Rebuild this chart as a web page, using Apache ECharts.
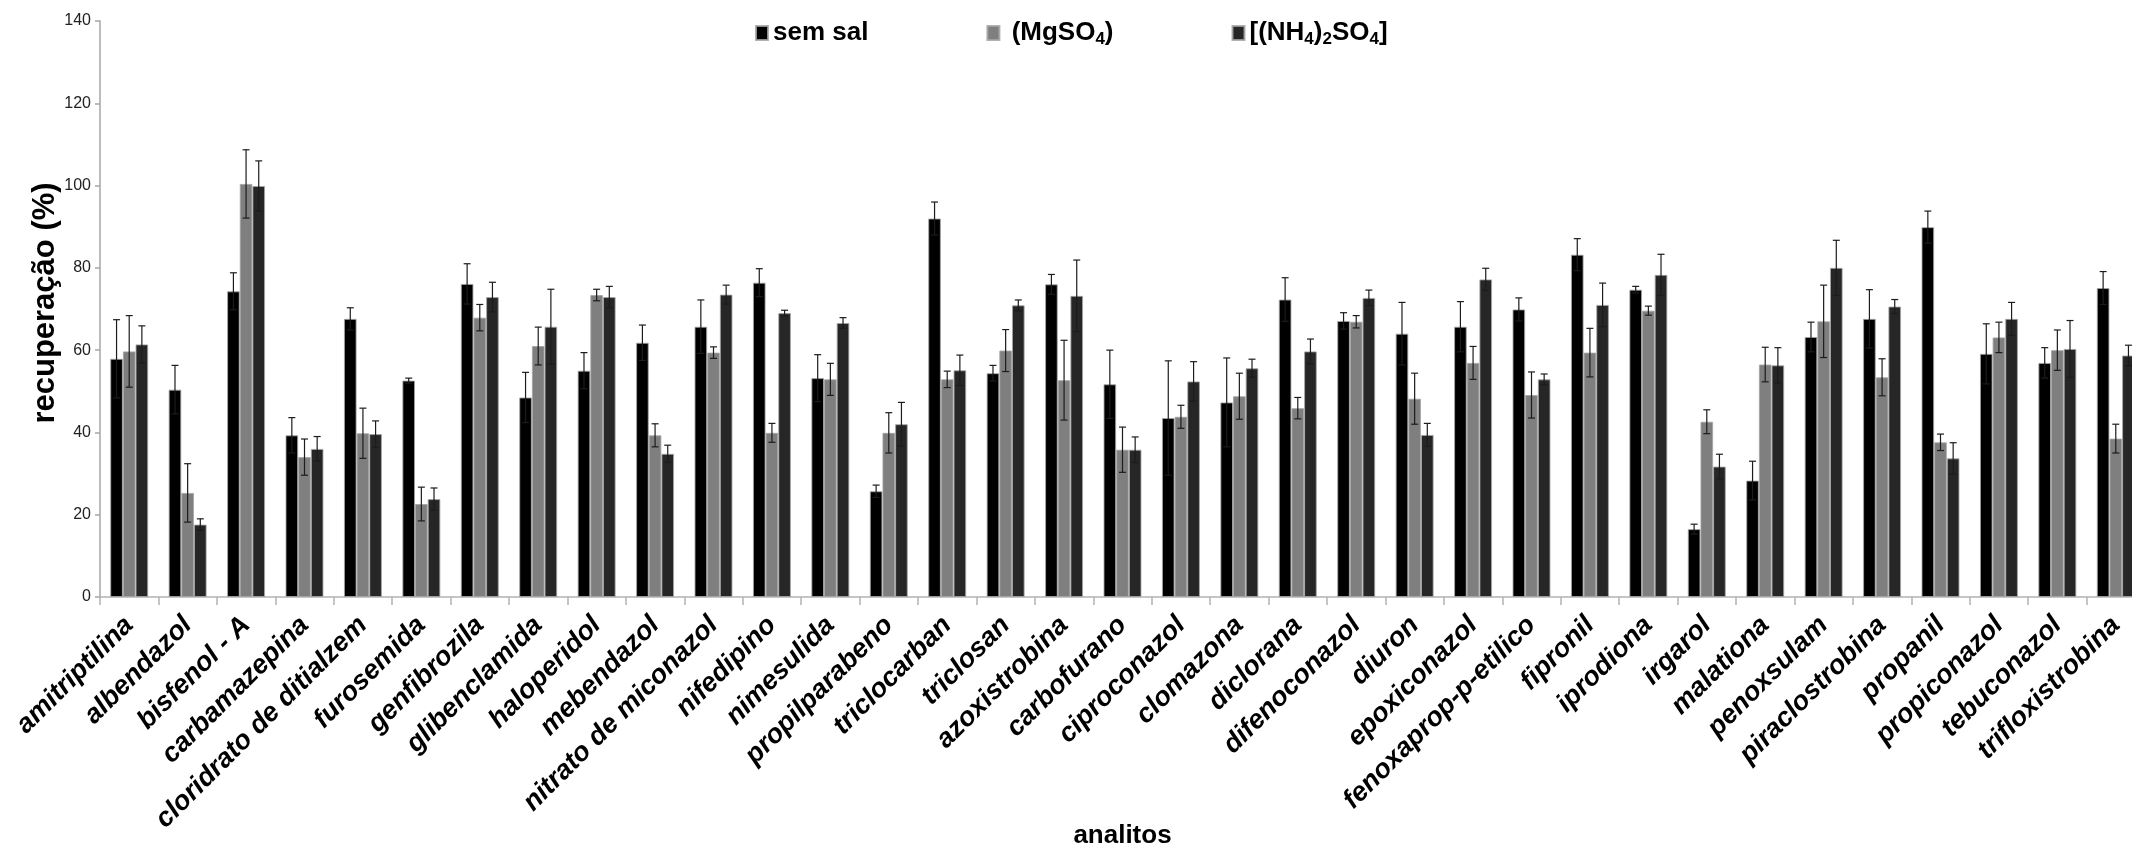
<!DOCTYPE html>
<html>
<head>
<meta charset="utf-8">
<title>recuperação (%) por analito</title>
<script src="https://cdn.jsdelivr.net/npm/echarts@6/dist/echarts.min.js"></script>
<style>
  html, body { margin: 0; padding: 0; background: #fff; }
  #chart { width: 2132px; height: 851px; }
</style>
</head>
<body>
<div id="chart"></div>
<script>
// Analytes on the category axis
const categories = [
  'amitriptilina', 'albendazol', 'bisfenol - A', 'carbamazepina', 'cloridrato de ditialzem',
  'furosemida', 'genfibrozila', 'glibenclamida', 'haloperidol', 'mebendazol',
  'nitrato de miconazol', 'nifedipino', 'nimesulida', 'propilparabeno', 'triclocarban',
  'triclosan', 'azoxistrobina', 'carbofurano', 'ciproconazol', 'clomazona',
  'diclorana', 'difenoconazol', 'diuron', 'epoxiconazol', 'fenoxaprop-p-etilico',
  'fipronil', 'iprodiona', 'irgarol', 'malationa', 'penoxsulam',
  'piraclostrobina', 'propanil', 'propiconazol', 'tebuconazol', 'trifloxistrobina'
];

// Series names
const seriesNames = ['sem sal', '(MgSO4)', '[(NH4)2SO4]'];

// Mean recovery (%) and standard deviation per analyte
const semSal = [57.9, 50.4, 74.3, 39.3, 67.6, 52.6, 76.1, 48.5, 55.0, 61.8, 65.7, 76.4, 53.2, 25.7, 92.0, 54.4, 76.0, 51.7, 43.5, 47.3, 72.3, 67.1, 64.0, 65.7, 69.9, 83.2, 74.7, 16.5, 28.3, 63.2, 67.6, 89.9, 59.1, 56.9, 75.1];
const semSalErr = [9.5, 5.9, 4.5, 4.3, 2.7, 0.6, 4.9, 6.1, 4.4, 4.3, 6.5, 3.4, 5.7, 1.5, 4.0, 1.9, 2.4, 8.3, 13.9, 10.8, 5.3, 2.0, 7.6, 6.1, 2.8, 3.9, 0.8, 1.2, 4.7, 3.6, 7.1, 3.9, 7.3, 3.7, 4.0];

const mgso4 = [59.7, 25.3, 100.4, 34.0, 39.8, 22.6, 67.9, 61.0, 73.4, 39.3, 59.4, 39.9, 52.9, 39.9, 52.9, 59.9, 52.7, 35.8, 43.8, 48.8, 45.9, 66.9, 48.2, 56.9, 49.1, 59.4, 69.6, 42.6, 56.5, 67.0, 53.4, 37.6, 63.1, 60.0, 38.5];
const mgso4Err = [8.7, 7.1, 8.3, 4.4, 6.1, 4.1, 3.2, 4.6, 1.4, 2.8, 1.4, 2.3, 3.9, 4.9, 2.0, 5.1, 9.7, 5.5, 2.8, 5.6, 2.6, 1.5, 6.2, 4.0, 5.6, 5.9, 1.1, 2.9, 4.2, 8.8, 4.5, 2.0, 3.7, 4.9, 3.5];

const nh4so4 = [61.4, 17.6, 99.9, 36.0, 39.6, 23.8, 72.9, 65.7, 72.9, 34.8, 73.5, 69.0, 66.6, 42.0, 55.1, 70.9, 73.2, 35.8, 52.4, 55.6, 59.7, 72.7, 39.4, 77.2, 52.9, 71.0, 78.3, 31.7, 56.3, 80.0, 70.6, 33.7, 67.6, 60.3, 58.7];
const nh4so4Err = [4.5, 1.4, 6.1, 3.0, 3.2, 2.7, 3.6, 9.1, 2.6, 2.1, 2.3, 0.7, 1.3, 5.3, 3.7, 1.3, 8.7, 3.1, 4.8, 2.2, 3.0, 1.9, 2.8, 2.7, 1.3, 5.3, 5.0, 3.0, 4.3, 6.7, 1.7, 3.8, 4.0, 6.9, 2.5];

// Y axis scale
const yMin = 0, yMax = 140, yStep = 20;

const FONT = "'Liberation Sans', Arial, sans-serif";
const colors = ['#000000', '#7f7f7f', '#262626'];
const CATEGORY_GAP = 0.35;   // share of each category band left empty
const N_SERIES = 3;

const values = [semSal, mgso4, nh4so4];
const errors = [semSalErr, mgso4Err, nh4so4Err];

// legend text with chemical subscripts
function legendLabel(name) {
  const parts = name.split(/(\d)/).filter(p => p.length);
  const lead = name.charAt(0) === '(' ? ' ' : '';
  return parts.map((p, i) => /\d/.test(p) ? '{s|' + p + '}' : '{n|' + (i === 0 ? lead : '') + p + '}').join('');
}

// error bar drawn centred on the k-th bar of a category group
function errorBarRenderer(k) {
  return function (params, api) {
    const cat = api.value(0), val = api.value(1), err = api.value(2);
    const center = api.coord([cat, val]);
    const band = api.size([1, 0])[0];
    const bw = band * (1 - CATEGORY_GAP) / N_SERIES;
    const x = center[0] + (k - (N_SERIES - 1) / 2) * bw;
    const yTop = api.coord([cat, val + err])[1];
    const yBot = api.coord([cat, val - err])[1];
    const cap = 3.5;
    const style = { stroke: '#1c1c1c', lineWidth: 1.2 };
    return {
      type: 'group',
      children: [
        { type: 'line', shape: { x1: x, y1: yTop, x2: x, y2: yBot }, style },
        { type: 'line', shape: { x1: x - cap, y1: yTop, x2: x + cap, y2: yTop }, style },
        { type: 'line', shape: { x1: x - cap, y1: yBot, x2: x + cap, y2: yBot }, style }
      ]
    };
  };
}

const barSeries = seriesNames.map((name, k) => ({
  name,
  type: 'bar',
  data: values[k],
  barGap: '0%',
  barCategoryGap: (CATEGORY_GAP * 100) + '%',
  itemStyle: { color: colors[k], borderColor: 'rgba(165,165,165,0.85)', borderWidth: 1 },
  emphasis: { disabled: true },
  z: 2
}));

const errSeries = seriesNames.map((name, k) => ({
  type: 'custom',
  name: name + ' DP',
  renderItem: errorBarRenderer(k),
  data: categories.map((c, i) => [i, values[k][i], errors[k][i]]),
  encode: { x: 0, y: 1 },
  silent: true,
  z: 5
}));

const chart = echarts.init(document.getElementById('chart'), null, { renderer: 'canvas' });
chart.setOption({
  animation: false,
  backgroundColor: '#ffffff',
  textStyle: { fontFamily: FONT },
  grid: { left: 100, top: 21, width: 2045, height: 576, outerBoundsMode: 'none', containLabel: false },
  legend: {
    data: seriesNames,
    left: 750,
    top: 15,
    icon: 'rect',
    itemWidth: 12,
    itemHeight: 14,
    itemGap: 118,
    selectedMode: false,
    formatter: legendLabel,
    textStyle: {
      fontFamily: FONT,
      rich: {
        n: { fontSize: 26, fontWeight: 'bold', color: '#000', fontFamily: FONT, lineHeight: 30, verticalAlign: 'middle' },
        s: { fontSize: 17, fontWeight: 'bold', color: '#000', fontFamily: FONT, lineHeight: 17, verticalAlign: 'bottom' }
      }
    }
  },
  xAxis: {
    type: 'category',
    data: categories,
    name: 'analitos',
    nameLocation: 'middle',
    nameGap: 226,
    nameMoveOverlap: false,
    nameTextStyle: { fontSize: 26, fontWeight: 'bold', color: '#000', fontFamily: FONT },
    axisLine: { show: true, lineStyle: { color: '#b3b3b3', width: 1.5 } },
    axisTick: { show: true, alignWithLabel: false, length: 8, lineStyle: { color: '#b3b3b3', width: 1.5 } },
    axisLabel: {
      interval: 0,
      rotate: 45,
      margin: 24,
      fontSize: 27,
      fontWeight: 'bold',
      fontStyle: 'italic',
      color: '#000',
      fontFamily: FONT
    },
    splitLine: { show: false }
  },
  yAxis: {
    type: 'value',
    min: yMin,
    max: yMax,
    interval: yStep,
    name: 'recuperação (%)',
    nameLocation: 'middle',
    nameGap: 39,
    nameMoveOverlap: false,
    nameTextStyle: { fontSize: 31, fontWeight: 'bold', color: '#000', fontFamily: FONT, padding: [0, 0, 0, 12] },
    axisLine: { show: true, lineStyle: { color: '#a6a6a6', width: 1.5 } },
    axisTick: { show: true, length: 5, lineStyle: { color: '#a6a6a6', width: 1.5 } },
    axisLabel: { fontSize: 16, color: '#222', margin: 9, fontFamily: FONT },
    splitLine: { show: false }
  },
  tooltip: { show: false },
  series: barSeries.concat(errSeries)
});
</script>
</body>
</html>
